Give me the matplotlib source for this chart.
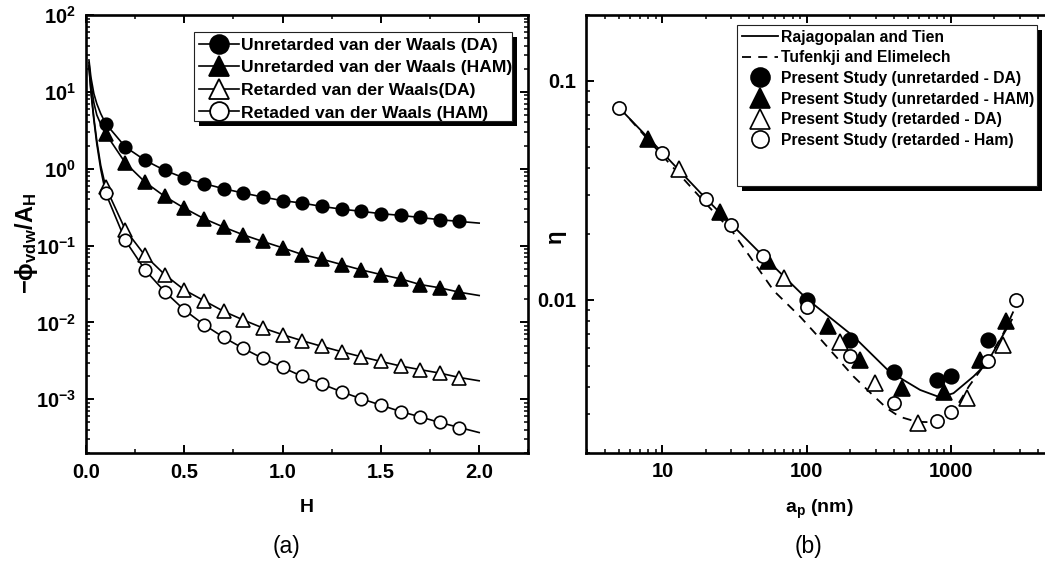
import numpy as np
import matplotlib
matplotlib.use("Agg")
import matplotlib.pyplot as plt
from matplotlib.lines import Line2D
from matplotlib.patches import Rectangle
from matplotlib.ticker import LogLocator, FuncFormatter, MultipleLocator, NullFormatter, FixedLocator
from matplotlib.transforms import offset_copy

plt.rcParams['font.family'] = ['Liberation Sans', 'DejaVu Sans']
plt.rcParams['font.weight'] = 'bold'
plt.rcParams['mathtext.fontset'] = 'custom'
plt.rcParams['mathtext.rm'] = 'Liberation Sans:bold'
plt.rcParams['mathtext.it'] = 'Liberation Sans:bold'
plt.rcParams['mathtext.bf'] = 'Liberation Sans:bold'
plt.rcParams['mathtext.default'] = 'rm'

# ---------------- panel (a): van der Waals potential vs separation ----------------
H_pts = [0.1, 0.2, 0.3, 0.4, 0.5, 0.6, 0.7, 0.8, 0.9, 1.0,
         1.1, 1.2, 1.3, 1.4, 1.5, 1.6, 1.7, 1.8, 1.9]
unret_DA = [3.87, 1.92, 1.29, 0.953, 0.757, 0.64, 0.55, 0.482, 0.428, 0.384,
            0.357, 0.323, 0.298, 0.279, 0.26, 0.247, 0.232, 0.217, 0.206]
unret_HAM = [2.87, 1.19, 0.671, 0.437, 0.307, 0.224, 0.174, 0.138, 0.113, 0.0935,
             0.0765, 0.0665, 0.0567, 0.0483, 0.042, 0.0369, 0.0311, 0.0282, 0.0247]
ret_DA = [0.578, 0.161, 0.0743, 0.042, 0.0265, 0.0192, 0.01396, 0.01077, 0.00847, 0.00693,
          0.00578, 0.00488, 0.00416, 0.00358, 0.00311, 0.00271, 0.00243, 0.00219, 0.00192]
ret_HAM = [0.482, 0.1167, 0.0483, 0.0252, 0.01455, 0.00935, 0.0064, 0.00459, 0.0034, 0.0026,
           0.00198, 0.00158, 0.00125, 0.001016, 0.00084, 0.000693, 0.000591, 0.000499, 0.000429]

# continuous curves: close-contact part, the sampled points, and the end at H = 2
H_near = [0.015, 0.025, 0.04, 0.055, 0.075]
H_end = [2.0]
unret_DA_near, unret_DA_end = [26, 15.5, 9.5, 7.0, 5.2], [0.196]
unret_HAM_near, unret_HAM_end = [24, 13, 7.2, 5.0, 3.8], [0.0224]
ret_DA_near, ret_DA_end = [22, 10.5, 4.6, 2.3, 1.1], [0.00174]
ret_HAM_near, ret_HAM_end = [21, 10, 4.3, 2.1, 0.98], [0.000369]

labels_a = ['Unretarded van der Waals (DA)', 'Unretarded van der Waals (HAM)',
            'Retarded van der Waals(DA)', 'Retaded van der Waals (HAM)']
H_ticks = [0.0, 0.5, 1.0, 1.5, 2.0]

# ---------------- panel (b): single collector efficiency vs particle radius ----------------
RT_ap = [5, 10, 20, 50, 100, 211, 359, 468, 611, 840, 1040, 1430, 1770, 2640]
RT_eta = [0.0755, 0.047, 0.029, 0.0158, 0.0101, 0.0068, 0.00482, 0.0043, 0.00387,
          0.00358, 0.00374, 0.00446, 0.00513, 0.0081]
TE_ap = [5, 10, 20, 31, 59, 90, 123, 211, 278, 359, 440, 577, 800, 1040, 1330, 1800, 2300, 2800]
TE_eta = [0.076, 0.0455, 0.0275, 0.0202, 0.011, 0.00837, 0.00667, 0.00446, 0.00374, 0.00319,
          0.00292, 0.00277, 0.00275, 0.00308, 0.00402, 0.0053, 0.007, 0.0093]

ps_unret_DA_ap = [100, 200, 400, 800, 1000, 1800]
ps_unret_DA_eta = [0.01, 0.00656, 0.00467, 0.0043, 0.00446, 0.00656]
ps_unret_HAM_ap = [8, 25, 54, 141, 234, 456, 895, 1592, 2409]
ps_unret_HAM_eta = [0.0545, 0.0251, 0.0151, 0.00755, 0.0053, 0.00394, 0.0038, 0.0053, 0.00796]
ps_ret_DA_ap = [13, 70, 169, 298, 594, 1288, 2307]
ps_ret_DA_eta = [0.0394, 0.01256, 0.00644, 0.00415, 0.00274, 0.00355, 0.00622]
ps_ret_HAM_ap = [5, 10, 20, 30, 50, 100, 200, 400, 800, 1000, 1800, 2800]
ps_ret_HAM_eta = [0.0755, 0.047, 0.0289, 0.022, 0.0159, 0.00922, 0.00554, 0.00336,
                  0.0028, 0.00308, 0.00526, 0.01]

labels_b = ['Rajagopalan and Tien', 'Tufenkji and Elimelech',
            'Present Study (unretarded - DA)', 'Present Study (unretarded - HAM)',
            'Present Study (retarded - DA)', 'Present Study (retarded - Ham)']

W, Hpx = 1045, 570
fig = plt.figure(figsize=(W / 100, Hpx / 100), dpi=100)

def px_axes(x0, y0, x1, y1):
    return fig.add_axes([x0 / W, 1 - y1 / Hpx, (x1 - x0) / W, (y1 - y0) / Hpx])

def style_axes(ax):
    for s in ax.spines.values():
        s.set_linewidth(1.9)
    ax.tick_params(which='both', direction='in', top=True, right=True, labelsize=14.5)
    ax.tick_params(which='major', length=6, width=1.4, pad=7)
    ax.tick_params(which='minor', length=3.2, width=1.1)

def legend_box(ax, x0, y0, x1, y1):
    sh = offset_copy(ax.transAxes, fig=fig, x=5, y=-5, units='dots')
    ax.add_patch(Rectangle((x0, y0), x1 - x0, y1 - y0, transform=sh, facecolor='k',
                           edgecolor='none', zorder=6, clip_on=False))
    ax.add_patch(Rectangle((x0, y0), x1 - x0, y1 - y0, transform=ax.transAxes,
                           facecolor='white', edgecolor='#222222', lw=0.8, zorder=6.5,
                           clip_on=False))

# ----- panel (a)
axa = px_axes(86, 15, 528.3, 453)
style_axes(axa)
axa.set_yscale('log')
axa.set_xlim(0, 2.25)
axa.set_ylim(2e-4, 100)

series_a = [
    (unret_DA, unret_DA_near, unret_DA_end, 'o', 'k', 9),
    (unret_HAM, unret_HAM_near, unret_HAM_end, '^', 'k', 10),
    (ret_DA, ret_DA_near, ret_DA_end, '^', 'white', 10),
    (ret_HAM, ret_HAM_near, ret_HAM_end, 'o', 'white', 9),
]
handles_a = []
for vals, near, end, mk, fc, ms in series_a:
    axa.plot(H_near + H_pts + H_end, near + vals + end, '-', color='k', lw=1.2, zorder=2)
    axa.plot(H_pts, vals, ls='none', marker=mk, ms=ms, mfc=fc, mec='k', mew=1.2, zorder=3)
    handles_a.append(Line2D([], [], color='k', lw=1.2, marker=mk, ms=ms * 1.5,
                            mfc=fc, mec='k', mew=1.3))

axa.xaxis.set_major_locator(FixedLocator(H_ticks))
axa.xaxis.set_minor_locator(MultipleLocator(0.25))
axa.xaxis.set_major_formatter(FuncFormatter(lambda v, p: '%.1f' % v))
axa.yaxis.set_major_locator(LogLocator(base=10, numticks=20))
axa.yaxis.set_minor_locator(LogLocator(base=10, subs=np.arange(2, 10), numticks=20))
axa.yaxis.set_minor_formatter(NullFormatter())
axa.yaxis.set_major_formatter(FuncFormatter(lambda v, p: r'$10^{%d}$' % round(np.log10(v))))

legend_box(axa, 0.245, 0.7587, 0.9625, 0.9605)
leg = axa.legend(handles_a, labels_a, loc='upper left', bbox_to_anchor=(0.243, 0.9605),
                 frameon=False, fontsize=12.6, handlelength=2.3, handletextpad=0.12,
                 labelspacing=0.42, borderaxespad=0, borderpad=0.3, numpoints=1)
leg.set_zorder(7)

# ----- panel (b)
axb = px_axes(585.7, 15, 1047, 452.7)
style_axes(axb)
axb.tick_params(which='both', right=False)
axb.set_xscale('log')
axb.set_yscale('log')
axb.set_xlim(2.94, 4624)
axb.set_ylim(0.002, 0.2)

axb.plot(RT_ap, RT_eta, '-', color='k', lw=1.3, zorder=2)
axb.plot(TE_ap, TE_eta, '--', color='k', lw=1.3, dashes=(5, 4), zorder=2)
pts_b = [
    (ps_unret_DA_ap, ps_unret_DA_eta, 'o', 'k', 10.5),
    (ps_unret_HAM_ap, ps_unret_HAM_eta, '^', 'k', 11),
    (ps_ret_DA_ap, ps_ret_DA_eta, '^', 'white', 11),
    (ps_ret_HAM_ap, ps_ret_HAM_eta, 'o', 'white', 9.5),
]
handles_b = [Line2D([], [], color='k', lw=1.3),
             Line2D([], [], color='k', lw=1.3, ls='--', dashes=(5, 4))]
for ap, eta, mk, fc, ms in pts_b:
    axb.plot(ap, eta, ls='none', marker=mk, ms=ms, mfc=fc, mec='k', mew=1.2, zorder=3)
    handles_b.append(Line2D([], [], ls='none', marker=mk, ms=ms * 1.3, mfc=fc, mec='k', mew=1.2))

axb.xaxis.set_major_locator(LogLocator(base=10, numticks=20))
axb.xaxis.set_minor_locator(LogLocator(base=10, subs=np.arange(2, 10), numticks=20))
axb.xaxis.set_minor_formatter(NullFormatter())
axb.xaxis.set_major_formatter(FuncFormatter(lambda v, p: '%d' % round(v)))
axb.yaxis.set_major_locator(LogLocator(base=10, numticks=20))
axb.yaxis.set_minor_locator(LogLocator(base=10, subs=np.arange(2, 10), numticks=20))
axb.yaxis.set_minor_formatter(NullFormatter())
axb.yaxis.set_major_formatter(FuncFormatter(lambda v, p: '%g' % v))

legend_box(axb, 0.3286, 0.6093, 0.9777, 0.9772)
legb = axb.legend(handles_b, labels_b, loc='upper left', bbox_to_anchor=(0.3286, 0.9772),
                  frameon=False, fontsize=11.3, handlelength=2.3, handletextpad=0.2,
                  labelspacing=0.36, borderaxespad=0, borderpad=0.3, numpoints=1)
legb.set_zorder(7)

# ----- axis titles and panel tags
def ftext(x, y, s, **kw):
    fig.text(x / W, 1 - y / Hpx, s, ha='center', va='center', **kw)

ftext(26, 243, r'$-\phi_{vdw}/A_H$', rotation=90, fontsize=17)
ftext(307, 508, 'H', fontsize=14)
ftext(558, 238, r'$\eta$', rotation=90, fontsize=16, fontweight='normal')
ftext(819, 509, r'a$_\mathregular{p}$ (nm)', fontsize=14)
ftext(287, 547, '(a)', fontsize=16.5, fontweight='normal')
ftext(808, 547, '(b)', fontsize=16.5, fontweight='normal')

fig.savefig('out.png', dpi=100)
